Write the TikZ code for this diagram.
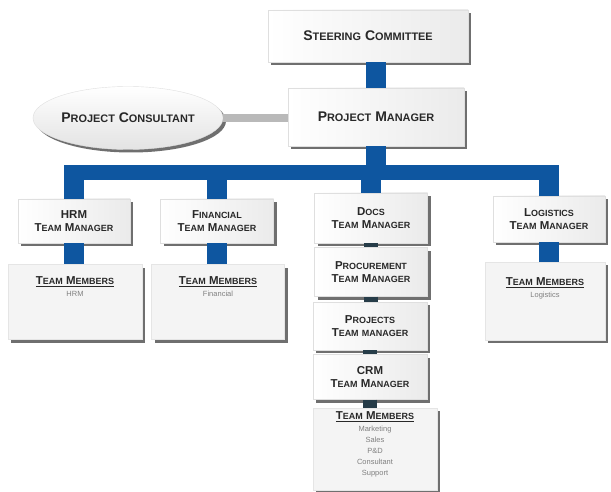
\documentclass[tikz,border=0pt]{standalone}
\usepackage{fontspec}
\setmainfont{Liberation Sans}
\usetikzlibrary{shapes.geometric,shadows}

\definecolor{orgblue}{RGB}{14,86,160}
\definecolor{stubgray}{RGB}{38,60,72}
\definecolor{inkgray}{RGB}{40,40,40}

% fake small caps: big first letter, smaller rest
\makeatletter
\newcommand{\sk}[2]{#1{\fontsize{\the\dimexpr.78\dimexpr\f@size pt\relax\relax}{\f@baselineskip}\selectfont #2}}
\makeatother

\tikzset{
  box/.style={draw=gray!25, left color=white, right color=gray!16, align=center,
    inner sep=0pt, text=inkgray, font=\bfseries\fontsize{11.5}{13}\selectfont,
    drop shadow={shadow xshift=3pt, shadow yshift=-3pt, fill=black!75, opacity=.75}},
  topbox/.style={box, font=\bfseries\fontsize{14}{16}\selectfont},
  teambox/.style={draw=gray!20, fill=gray!9, inner sep=0pt,
    drop shadow={shadow xshift=3pt, shadow yshift=-3pt, fill=black!75, opacity=.75}},
  teamtext/.style={align=center, anchor=north, inner sep=0pt, text=inkgray,
    font=\bfseries\fontsize{11.5}{13}\selectfont},
  trunk/.style={orgblue, line width=20pt},
  bus/.style={orgblue, line width=15pt},
  stub/.style={stubgray, line width=14pt},
  side/.style={gray!55, line width=8pt}
}
\newcommand{\members}{\underline{\sk{T}{EAM} \sk{M}{EMBERS}}}
\newcommand{\who}[1]{{\mdseries\fontsize{7.5}{9}\selectfont\color{gray}#1}}

\begin{document}
\begin{tikzpicture}[x=1pt,y=-1pt]
  \useasboundingbox[fill=white] (0,0) rectangle (611,492);

  % Top
  \node[topbox, minimum width=200pt, minimum height=52pt] (sc) at (368,36) {\sk{S}{TEERING} \sk{C}{OMMITTEE}};
  \node[topbox, minimum width=176pt, minimum height=58pt] (pm) at (376,117) {\sk{P}{ROJECT} \sk{M}{ANAGER}};
  \node[ellipse, topbox, top color=white, bottom color=gray!22, minimum width=190pt, minimum height=63pt] (pc) at (128,118) {\sk{P}{ROJECT} \sk{C}{ONSULTANT}};

  % Managers
  \node[box, minimum width=112pt, minimum height=44pt] (hrm) at (74,221) {HRM\\\sk{T}{EAM} \sk{M}{ANAGER}};
  \node[box, minimum width=113pt, minimum height=44pt] (fin) at (217,221) {\sk{F}{INANCIAL}\\\sk{T}{EAM} \sk{M}{ANAGER}};
  \node[box, minimum width=113pt, minimum height=50pt] (docs) at (371,218) {\sk{D}{OCS}\\\sk{T}{EAM} \sk{M}{ANAGER}};
  \node[box, minimum width=112pt, minimum height=46pt] (log) at (549,219) {\sk{L}{OGISTICS}\\\sk{T}{EAM} \sk{M}{ANAGER}};

  % Docs column
  \node[box, minimum width=113pt, minimum height=49pt] (proc) at (371,272) {\sk{P}{ROCUREMENT}\\\sk{T}{EAM} \sk{M}{ANAGER}};
  \node[box, minimum width=114pt, minimum height=48pt] (proj) at (370,326) {\sk{P}{ROJECTS}\\\sk{T}{EAM} \sk{}{MANAGER}};
  \node[box, minimum width=114pt, minimum height=45pt] (crm) at (370,377) {CRM\\\sk{T}{EAM} \sk{M}{ANAGER}};

  % Team members
  \node[teambox, minimum width=134pt, minimum height=75pt] (hrmtm) at (75,302) {};
  \node[teambox, minimum width=133pt, minimum height=75pt] (fintm) at (218,302) {};
  \node[teambox, minimum width=120pt, minimum height=78pt] (logtm) at (545,301) {};
  \node[teambox, minimum width=124pt, minimum height=82pt] (docstm) at (375,449) {};
  \node[teamtext] (hrmtx) at ([yshift=-12pt]hrmtm.north) {\members\\[-1pt]\who{HRM}};
  \node[teamtext] (fintx) at ([yshift=-12pt]fintm.north) {\members\\[-1pt]\who{Financial}};
  \node[teamtext] (logtx) at ([yshift=-16pt]logtm.north) {\members\\[-1pt]\who{Logistics}};
  \node[teamtext] (docstx) at ([yshift=-4pt]docstm.north) {\members\\[-1pt]\who{Marketing}\\[-2pt]\who{Sales}\\[-2pt]\who{P\&D}\\[-2pt]\who{Consultant}\\[-2pt]\who{Support}};

  % Connectors
  \coordinate (busL) at (74,172.5);
  \coordinate (busR) at (549,172.5);
  \draw[bus] ([xshift=-10pt]busL) -- ([xshift=10pt]busR);
  \draw[trunk] (sc.south -| pm.north) -- (pm.north);
  \draw[trunk] (pm.south) -- (pm.south |- busL);
  \foreach \n in {hrm,fin,docs,log}
    \draw[trunk] (\n.north |- busL) -- (\n.north);
  \draw[trunk] (hrm.south) -- (hrmtm.north -| hrm.south);
  \draw[trunk] (fin.south) -- (fintm.north -| fin.south);
  \draw[trunk] (log.south) -- (logtm.north -| log.south);
  \draw[stub] (docs.south) -- (proc.north);
  \draw[stub] (proc.south) -- (proc.south |- proj.north);
  \draw[stub] (proj.south) -- (crm.north);
  \draw[stub] (crm.south) -- (crm.south |- docstm.north);
  \draw[side] (pc.east) -- (pc.east -| pm.west);

\end{tikzpicture}
\end{document}
